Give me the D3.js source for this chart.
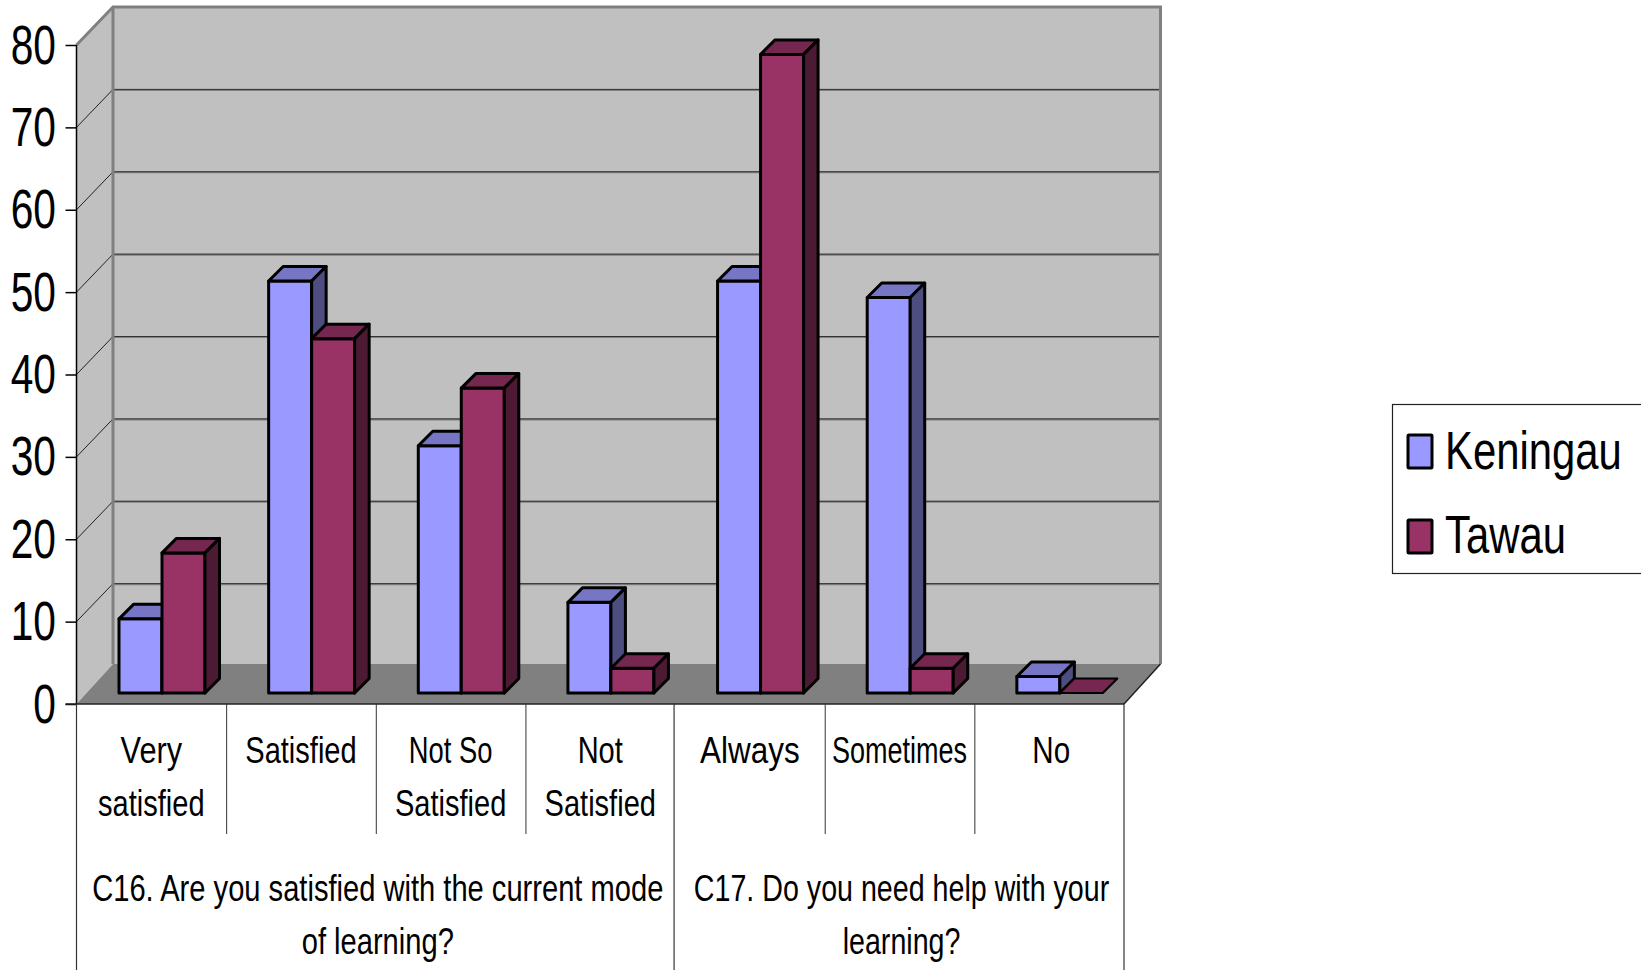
<!DOCTYPE html>
<html><head><meta charset="utf-8">
<script src="https://cdn.jsdelivr.net/npm/d3@7"></script>
<style>html,body{margin:0;padding:0;background:#fff;overflow:hidden}svg{display:block}text{font-family:"Liberation Sans",Arial,sans-serif;fill:#000}</style>
</head><body><svg id="c" width="1641" height="970"></svg>
<script>
const categories = ["Very satisfied","Satisfied","Not So Satisfied","Not Satisfied","Always","Sometimes","No"];
const categoryLines = [["Very","satisfied"],["Satisfied"],["Not So","Satisfied"],["Not","Satisfied"],["Always"],["Sometimes"],["No"]];
const groupLines = [["C16. Are you satisfied with the current mode","of learning?"],["C17. Do you need help with your","learning?"]];
const groupSpans = [[0,4],[4,7]];
const seriesNames = ["Keningau","Tawau"];
const keningau = [9,50,30,11,50,48,2];
const tawau = [17,43,37,3,77.5,3,0];
const tickValues = [0,10,20,30,40,50,60,70,80];

const frontFaces = ["#9999FF","#993366"], topFaces = ["#7676C4","#76274F"], sideFaces = ["#4D4D80","#4D1A33"];
const svg = d3.select("#c");
const L=76.5,R=1124,T=45,B=704,DX=36.5,WB=664,WT=7,BB=693,D=14.5;
const x = d3.scaleBand().domain(categories).range([L,R]);
const x1 = d3.scaleBand().domain(seriesNames).range([42.5,128.5]);
const y = d3.scaleLinear().domain([0,80]).range([B,T]);
const yWall = d3.scaleLinear().domain([0,80]).range([666,WT]);
const yBar = d3.scaleLinear().domain([0,80]).range([BB,BB-8.24*80]);
const poly = pts => pts.map(p=>p.join(",")).join(" ");

// walls and floor
svg.append("polygon").attr("points",poly([[L,T],[L+DX,WT],[L+DX,WB],[L,B]])).attr("fill","#C0C0C0");
svg.append("polygon").attr("points",poly([[L+DX,WT],[R+DX,WT],[R+DX,WB],[L+DX,WB]])).attr("fill","#C0C0C0");
svg.append("polygon").attr("points",poly([[L,B],[L+DX,WB],[R+DX,WB],[R,B]])).attr("fill","#808080");
// gridlines
tickValues.filter(v=>v>0&&v<80).forEach(v=>{
  svg.append("line").attr("x1",L+DX).attr("x2",R+DX).attr("y1",yWall(v)+.5).attr("y2",yWall(v)+.5).attr("stroke","#808080").attr("stroke-width",2);
  svg.append("line").attr("x1",L+DX).attr("x2",R+DX).attr("y1",yWall(v)).attr("y2",yWall(v)).attr("stroke","#333").attr("stroke-width",1);
  svg.append("line").attr("x1",L).attr("x2",L+DX).attr("y1",y(v)).attr("y2",yWall(v)).attr("stroke","#222").attr("stroke-width",1);
});
// wall edges
svg.append("path").attr("d",`M${L},${T}L${L+DX},${WT}H${R+DX}V${WB}`).attr("fill","none").attr("stroke","#808080").attr("stroke-width",3);
svg.append("line").attr("x1",L+DX).attr("x2",L+DX).attr("y1",WT).attr("y2",WB).attr("stroke","#808080").attr("stroke-width",3);
svg.append("line").attr("x1",R).attr("x2",R+DX).attr("y1",B).attr("y2",WB).attr("stroke","#222").attr("stroke-width",1.5);

// bars
categories.forEach((c,i)=>{
  [keningau[i],tawau[i]].forEach((v,s)=>{
    const x0=x(c)+x1(seriesNames[s]), x2=x0+x1.bandwidth(), t=yBar(v), g=svg.append("g").attr("stroke","#000").attr("stroke-width",v===0?2:3).attr("stroke-linejoin","round");
    if(v>0) g.append("rect").attr("x",x0).attr("y",t).attr("width",x2-x0).attr("height",BB-t).attr("fill",frontFaces[s]);
    g.append("polygon").attr("points",poly([[x0,t],[x0+D,t-D],[x2+D,t-D],[x2,t]])).attr("fill",topFaces[s]);
    if(v>0) g.append("polygon").attr("points",poly([[x2,t],[x2+D,t-D],[x2+D,BB-D],[x2,BB]])).attr("fill",sideFaces[s]);
  });
});

// y axis
const yAxis = d3.axisLeft(y).tickValues(tickValues).tickSize(11).tickFormat("");
const ax = svg.append("g").attr("transform",`translate(${L},0)`).call(yAxis);
ax.selectAll("path,line").attr("stroke","#000").attr("stroke-width",1.5);
ax.select("path").attr("d",`M0,${T}V${B}`);

function label(px,py,str,size,sx,anchor){
  svg.append("text").attr("transform",`translate(${px},${py}) scale(${sx},1)`).attr("text-anchor",anchor||"middle").attr("font-size",size).text(str);
}
tickValues.forEach(v=>label(56,y(v)+18.5,String(v),55,.74,"end"));

// category axis
svg.append("line").attr("x1",L-11).attr("x2",R).attr("y1",B).attr("y2",B).attr("stroke","#222").attr("stroke-width",1.5);
d3.range(1,7).filter(i=>i!==4).forEach(i=>{
  const xi=x(categories[i]);
  svg.append("line").attr("x1",xi+.5).attr("x2",xi+.5).attr("y1",B).attr("y2",834).attr("stroke","#333").attr("stroke-width",1);
});
[x(categories[0]),x(categories[4])-1,R].forEach(xi=>{
  svg.append("line").attr("x1",xi).attr("x2",xi).attr("y1",B).attr("y2",970).attr("stroke","#333").attr("stroke-width",1.2);
});
const stretch = {"Always":.85,"Sometimes":.73,"Not So":.74,"No":.8,"Very":.83};
categories.forEach((c,i)=>{
  categoryLines[i].forEach((t,j)=>label(x(c)+x.bandwidth()/2+(t==="No"?2:0),763+j*53,t,37,stretch[t]||.785));
});
const groupStretch = [.787,.774];
groupSpans.forEach((sp,i)=>{
  const a=x(categories[sp[0]]), b=sp[1]<categories.length?x(categories[sp[1]]):R;
  groupLines[i].forEach((t,j)=>label((a+b)/2+2,901+j*53,t,37,groupStretch[i]));
});

// legend
svg.append("rect").attr("x",1392.5).attr("y",404.5).attr("width",260).attr("height",169).attr("fill","#fff").attr("stroke","#222").attr("stroke-width",1.2);
seriesNames.forEach((n,i)=>{
  const top=[435,520][i];
  svg.append("rect").attr("x",1408).attr("y",top).attr("width",24).attr("height",33).attr("rx",1).attr("fill",frontFaces[i]).attr("stroke","#000").attr("stroke-width",3);
  label(1445,[469,553][i],n,54,.775,"start");
});
</script></body></html>
